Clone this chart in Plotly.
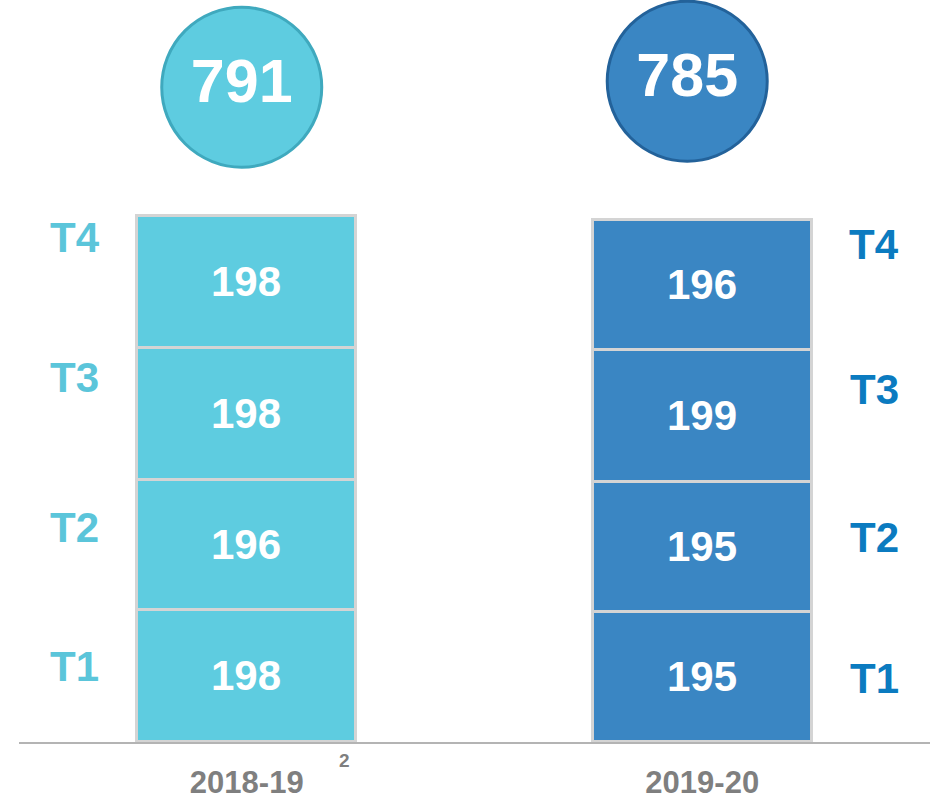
import plotly.graph_objects as go

# ---- data ----
years = ["2018-19", "2019-20"]
quarters = ["T1", "T2", "T3", "T4"]
values_2018_19 = [198, 196, 198, 198]
values_2019_20 = [195, 195, 199, 196]
totals = [791, 785]
footnote = "2"

# ---- style ----
bar_colors = ["#5ECCE0", "#3A86C3"]
circle_edge = ["#3FA9BE", "#23629A"]
tlabel_colors = ["#5BC5DA", "#0B7BC0"]
font_family = "Liberation Sans, Arial, sans-serif"
x_pos = [0, 1]
circle_dx = [-0.011, -0.033]
circle_y = [984, 993]
t_yshift = [[10, 18, 36, 45], [-1, 10, 27, 40]]
t_xshift = [-172, 172]

series = [values_2018_19, values_2019_20]

fig = go.Figure()
for qi, q in enumerate(quarters):
    vals = [series[0][qi], series[1][qi]]
    fig.add_trace(go.Bar(
        x=x_pos, y=vals, name=q, width=0.48,
        marker=dict(color=bar_colors, line=dict(color="#D4D4D4", width=3)),
        text=[str(v) for v in vals], textposition="inside",
        insidetextanchor="middle", textangle=0, constraintext="none",
        textfont=dict(color="white", size=42, family=font_family, weight="bold"),
        hoverinfo="skip", showlegend=False,
    ))

# total circles
fig.add_trace(go.Scatter(
    x=[x_pos[i] + circle_dx[i] for i in range(2)], y=circle_y,
    mode="markers+text",
    marker=dict(size=160, color=bar_colors, line=dict(color=circle_edge, width=3)),
    text=[str(t) for t in totals], textposition="middle center",
    textfont=dict(color="white", size=61, family=font_family, weight="bold"),
    hoverinfo="skip", showlegend=False, cliponaxis=False,
))

annotations = []
for bi in range(2):
    cum = 0
    for qi, q in enumerate(quarters):
        v = series[bi][qi]
        mid = cum + v / 2
        cum += v
        annotations.append(dict(
            x=x_pos[bi], y=mid, xref="x", yref="y", text=q, showarrow=False,
            xshift=t_xshift[bi], yshift=t_yshift[bi][qi],
            font=dict(color=tlabel_colors[bi], size=42, family=font_family, weight="bold"),
        ))
# footnote superscript next to first category label
annotations.append(dict(
    x=x_pos[0], y=0, xref="x", yref="y", text=footnote, showarrow=False,
    xshift=98, yshift=-18,
    font=dict(color="#7F7F7F", size=19, family=font_family, weight="bold"),
))

fig.update_layout(
    width=930, height=800,
    margin=dict(l=0, r=0, t=0, b=53),
    paper_bgcolor="white", plot_bgcolor="white",
    barmode="stack", bargap=0,
    showlegend=False,
    annotations=annotations,
    xaxis=dict(
        domain=[19 / 930, 1], range=[-0.5, 1.5],
        tickvals=x_pos, ticktext=years,
        tickfont=dict(color="#7F7F7F", size=31, family=font_family, weight="bold"),
        showgrid=False, zeroline=False, ticks="",
        showline=True, linecolor="#B4B4B4", linewidth=2,
        ticklabelstandoff=12, fixedrange=True,
    ),
    yaxis=dict(
        range=[0, 1115], visible=False, showgrid=False, zeroline=False, fixedrange=True,
    ),
)

fig.write_html(
    "out.html",
    config={"displayModeBar": False},
    post_script="document.body.style.margin='0';document.body.style.overflow='hidden';",
)
